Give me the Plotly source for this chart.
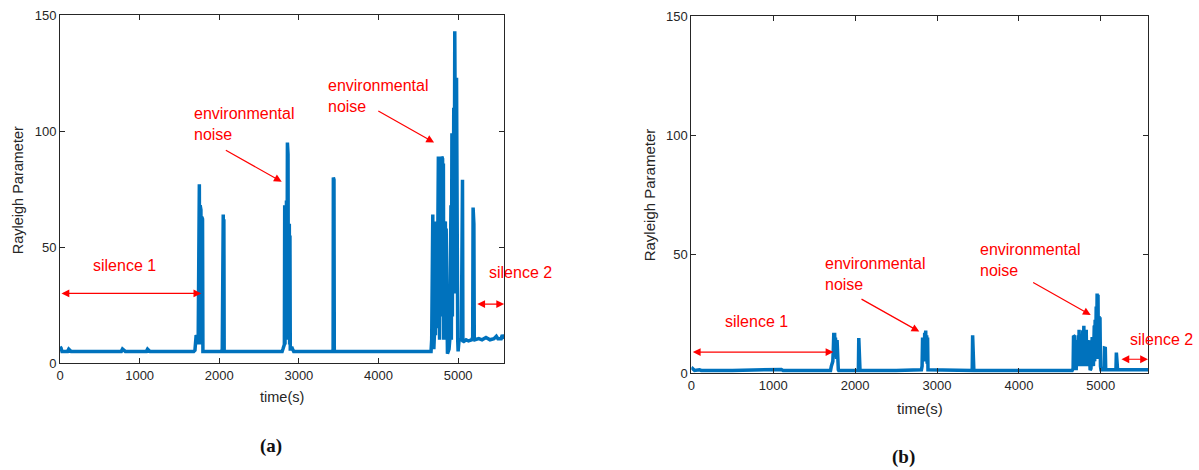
import plotly.graph_objects as go

# ---------------- data ----------------
# panel (a): (time s, Rayleigh parameter)
samples_a = [
    (0, 7), (12, 6.5), (25, 5), (40, 5), (95, 5), (110, 6), (125, 5.5), (140, 5),
    (300, 5), (500, 5), (700, 5), (770, 5), (785, 6), (800, 5.5), (820, 5),
    (1000, 5), (1085, 5), (1100, 6), (1115, 5.5), (1130, 5), (1300, 5), (1500, 5),
    (1680, 5), (1695, 5.5), (1705, 11), (1710, 12), (1715, 11), (1720, 12), (1725, 11),
    (1730, 12), (1735, 8), (1740, 77), (1745, 8), (1750, 77), (1755, 8), (1760, 68),
    (1765, 8), (1770, 66), (1775, 8), (1780, 63), (1785, 8), (1790, 62), (1795, 5),
    (1800, 5), (1900, 5), (2030, 5), (2038, 6), (2042, 64), (2046, 6), (2050, 64),
    (2054, 6), (2058, 62), (2062, 5), (2200, 5), (2500, 5), (2790, 5), (2800, 6),
    (2810, 7), (2818, 8), (2822, 68), (2826, 8), (2832, 68), (2838, 10), (2844, 70),
    (2850, 10), (2856, 95), (2860, 10), (2864, 90), (2868, 10), (2872, 60), (2876, 10),
    (2880, 60), (2884, 8), (2888, 55), (2892, 6), (2900, 6), (2910, 7), (2920, 6),
    (2935, 5), (3200, 5), (3425, 5), (3430, 6), (3433, 80), (3437, 6), (3441, 79),
    (3445, 5), (3800, 5), (4200, 5), (4640, 5), (4660, 5), (4668, 10), (4672, 64),
    (4677, 10), (4682, 64), (4687, 8), (4695, 6), (4702, 12), (4710, 61), (4715, 12),
    (4720, 61), (4725, 12), (4730, 55), (4736, 15), (4742, 89), (4747, 20), (4752, 89),
    (4757, 20), (4762, 60), (4767, 10), (4772, 50), (4777, 10), (4785, 89), (4790, 20),
    (4795, 89), (4800, 20), (4805, 88), (4810, 20), (4815, 86), (4820, 10), (4830, 60),
    (4835, 10), (4840, 61), (4845, 10), (4850, 58), (4856, 5), (4866, 4), (4876, 5),
    (4886, 6), (4895, 10), (4900, 68), (4905, 10), (4910, 68), (4915, 10), (4922, 99),
    (4928, 20), (4933, 99), (4938, 30), (4945, 110), (4950, 40), (4958, 143), (4963, 40),
    (4968, 142), (4973, 30), (4980, 123), (4985, 20), (4990, 122), (4995, 10), (5000, 5),
    (5005, 9), (5012, 10), (5040, 10), (5045, 79), (5050, 10), (5055, 79), (5060, 9),
    (5100, 10), (5130, 9.5), (5170, 10), (5183, 11), (5188, 67), (5193, 11), (5198, 60),
    (5203, 11), (5210, 10), (5260, 10.5), (5300, 10), (5350, 11), (5400, 10),
    (5450, 10.5), (5480, 11.5), (5500, 10.5), (5540, 10.5), (5555, 12), (5570, 10.5),
    (5580, 10.5),
]

# panel (b): (time s, Rayleigh parameter)
samples_b = [
    (0, 2.5), (20, 2), (40, 1.2), (100, 1.5), (120, 1.2), (500, 1.2), (780, 1.5),
    (800, 1.2), (1100, 1.6), (1120, 1.2), (1500, 1.2), (1700, 1.2), (1710, 3), (1720, 4),
    (1728, 5), (1734, 10), (1740, 17), (1745, 8), (1750, 17), (1755, 8), (1760, 15),
    (1765, 6), (1770, 15), (1775, 6), (1780, 14), (1785, 6), (1790, 14), (1795, 1.5),
    (1800, 1.2), (2040, 1.2), (2045, 14.8), (2050, 2), (2055, 14.5), (2060, 1.2),
    (2500, 1.2), (2810, 1.5), (2818, 3), (2824, 15), (2830, 5), (2836, 15), (2842, 5),
    (2850, 17), (2856, 5), (2862, 18), (2868, 5), (2874, 16), (2880, 4), (2885, 15),
    (2890, 1.5), (2900, 1.5), (3430, 1.2), (3435, 16), (3440, 2), (3445, 16), (3450, 1.2),
    (4000, 1.2), (4650, 1.2), (4662, 2), (4667, 15.8), (4672, 2), (4677, 15.5), (4682, 2),
    (4700, 2), (4710, 14), (4715, 3), (4725, 16), (4730, 3), (4735, 18.3), (4740, 4),
    (4750, 16), (4755, 3), (4762, 16.2), (4768, 3), (4780, 18), (4786, 4), (4793, 20),
    (4798, 4), (4805, 18), (4810, 3), (4822, 18.3), (4828, 3), (4840, 14), (4846, 3),
    (4856, 13.8), (4862, 2), (4870, 1.3), (4880, 2), (4895, 15.2), (4900, 3), (4905, 15),
    (4910, 3), (4920, 20), (4925, 5), (4931, 22.5), (4936, 6), (4944, 28), (4949, 8),
    (4955, 33.5), (4960, 8), (4966, 33), (4971, 6), (4978, 24), (4984, 6), (4990, 23.5),
    (4996, 3), (5002, 1.5), (5040, 1.5), (5045, 10.6), (5050, 1.5), (5055, 10.5),
    (5060, 1.5), (5185, 1.5), (5190, 8.7), (5195, 2), (5200, 8.5), (5205, 1.5),
    (5400, 1.5), (5580, 1.5),
]

x_ticks = [0, 1000, 2000, 3000, 4000, 5000]
y_ticks = [0, 50, 100, 150]
x_range = [0, 5580]
y_range = [0, 150]

time_a = [p[0] for p in samples_a]
rayleigh_a = [p[1] for p in samples_a]
time_b = [p[0] for p in samples_b]
rayleigh_b = [p[1] for p in samples_b]

# ---------------- figure ----------------
W, H = 1199, 470
LINE = "#0072BD"
RED = "#FF0000"
AX = "#262626"
FONT = "Liberation Sans"

fig = go.Figure()
fig.add_trace(go.Scatter(x=time_a, y=rayleigh_a, mode="lines",
                         line=dict(color=LINE, width=3.5), xaxis="x", yaxis="y",
                         showlegend=False, hoverinfo="skip"))
fig.add_trace(go.Scatter(x=time_b, y=rayleigh_b, mode="lines",
                         line=dict(color=LINE, width=3.5), xaxis="x2", yaxis="y2",
                         showlegend=False, hoverinfo="skip"))

def px_x(a, b):
    return [a / W, b / W]

def px_y(top, bottom):
    return [1 - bottom / H, 1 - top / H]

axis_common = dict(showline=True, linecolor=AX, linewidth=1, mirror="ticks",
                   ticks="inside", ticklen=5, tickcolor=AX, showgrid=False,
                   zeroline=False, automargin=False,
                   tickfont=dict(family=FONT, size=13, color=AX))

fig.update_layout(
    width=W, height=H, margin=dict(l=0, r=0, t=0, b=0, autoexpand=False),
    paper_bgcolor="white", plot_bgcolor="white", showlegend=False,
    xaxis=dict(domain=px_x(60, 504.3), range=x_range, tickvals=x_ticks,
               anchor="y", **axis_common),
    yaxis=dict(domain=px_y(15, 363), range=y_range, tickvals=y_ticks,
               anchor="x", **axis_common),
    xaxis2=dict(domain=px_x(691.3, 1148.3), range=x_range, tickvals=x_ticks,
                anchor="y2", **axis_common),
    yaxis2=dict(domain=px_y(16, 373.3), range=y_range, tickvals=y_ticks,
                anchor="x2", **axis_common),
)

ann = []

def label(text, x, y, size=14.5, bold=False, family=FONT, color=AX, angle=0):
    ann.append(dict(text=text, x=x / W, y=1 - y / H, xref="paper", yref="paper",
                    xanchor="center", yanchor="middle", showarrow=False,
                    textangle=angle,
                    font=dict(family=family, size=size, color=color)))

# axis titles and panel labels
label("Rayleigh Parameter", 18.3, 190, size=14.5, angle=-90)
label("time(s)", 282, 397, size=14.5)
label("<b>(a)</b>", 270.5, 446, size=19, family="Liberation Serif", color="#111")
label("Rayleigh Parameter", 649.3, 195, size=15, angle=-90)
label("time(s)", 920, 408, size=15)
label("<b>(b)</b>", 903, 457, size=19, family="Liberation Serif", color="#111")

def red_text(text, x, y, xr, yr):
    ann.append(dict(text=text, x=x, y=y, xref=xr, yref=yr, xanchor="left",
                    yanchor="middle", align="left", showarrow=False,
                    font=dict(family=FONT, size=16, color=RED)))

def red_arrow(x0, y0, x1, y1, xr, yr, both=False):
    ann.append(dict(text="", x=x1, y=y1, ax=x0, ay=y0, xref=xr, yref=yr,
                    axref=xr, ayref=yr, showarrow=True, arrowhead=2,
                    arrowsize=1.3, arrowwidth=1.2, arrowcolor=RED,
                    arrowside="end+start" if both else "end",
                    standoff=0, startstandoff=0))

# panel (a) annotations
red_text("silence 1", 389, 42.2, "x", "y")
red_arrow(0, 30, 1775, 30, "x", "y", both=True)
red_text("environmental<br>noise", 1658, 103, "x", "y")
red_arrow(2064, 92.1, 2785, 78.1, "x", "y")
red_text("environmental<br>noise", 3338, 114.9, "x", "y")
red_arrow(3979, 109, 4698, 95, "x", "y")
red_text("silence 2", 5364, 38.8, "x", "y")
red_arrow(5222, 25.4, 5578, 25.4, "x", "y", both=True)

# panel (b) annotations
red_text("silence 1", 383, 21.7, "x2", "y2")
red_arrow(0, 8.9, 1735, 8.9, "x2", "y2", both=True)
red_text("environmental<br>noise", 1604, 41.6, "x2", "y2")
red_arrow(2060, 31.5, 2784, 17.5, "x2", "y2")
red_text("environmental<br>noise", 3497, 47.6, "x2", "y2")
red_arrow(4156, 38.5, 4877, 24.5, "x2", "y2")
red_text("silence 2", 5328, 14, "x2", "y2")
red_arrow(5234, 5.9, 5576, 5.9, "x2", "y2", both=True)

fig.update_layout(annotations=ann)
fig.write_html(
    "out.html",
    config={"displayModeBar": False},
    post_script="document.body.style.margin='0';document.body.style.overflow='hidden';",
)
